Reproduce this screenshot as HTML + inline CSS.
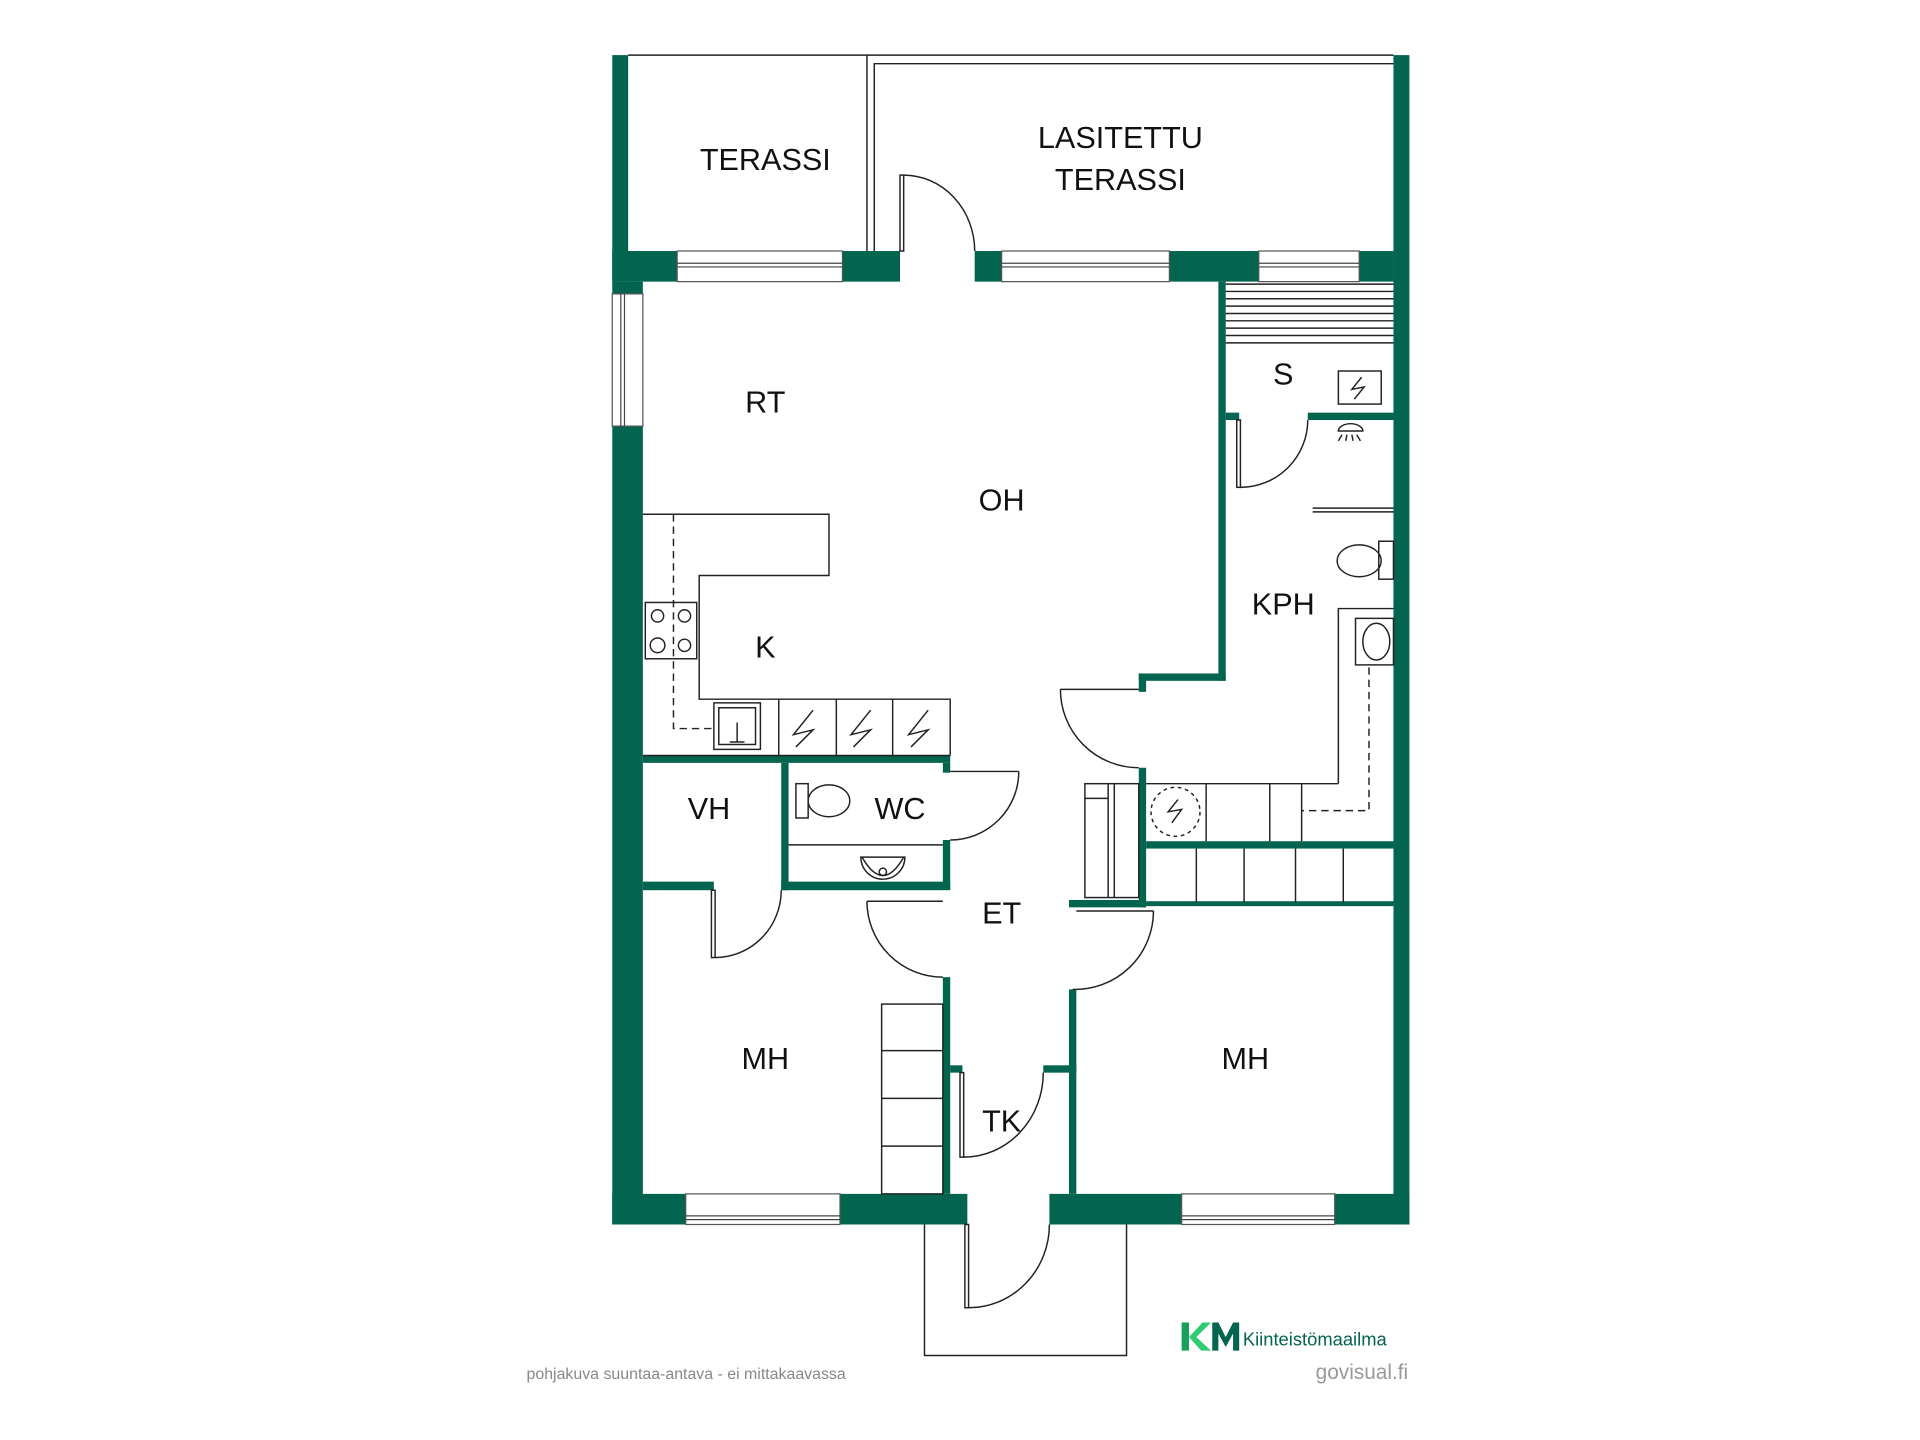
<!DOCTYPE html>
<html><head><meta charset="utf-8"><style>
html,body{margin:0;padding:0;background:#fff;}
svg{display:block;}
text{font-family:"Liberation Sans",Arial,sans-serif;}
</style></head><body>
<svg width="1920" height="1440" viewBox="0 0 1568 1176" preserveAspectRatio="none" xmlns="http://www.w3.org/2000/svg">
<rect width="1568" height="1176" fill="#fff"/>
<g fill="#036450">
<rect x="500" y="45" width="13" height="185"/>
<rect x="500" y="230" width="25" height="770"/>
<rect x="1138" y="45" width="13" height="955"/>
<rect x="500" y="205" width="235" height="25"/>
<rect x="796" y="205" width="342" height="25"/>
<rect x="500" y="975" width="290" height="25"/>
<rect x="857" y="975" width="294" height="25"/>
<rect x="995" y="230" width="6" height="326"/>
<rect x="930" y="550" width="71" height="6"/>
<rect x="930" y="550" width="6" height="15"/>
<rect x="1001" y="337" width="11" height="6"/>
<rect x="1068" y="337" width="70" height="6"/>
<rect x="930" y="627" width="6" height="114"/>
<rect x="936" y="687" width="202" height="6"/>
<rect x="873" y="735" width="63" height="6"/>
<rect x="936" y="736" width="202" height="4"/>
<rect x="873" y="808" width="6" height="167"/>
<rect x="852" y="870" width="27" height="6"/>
<rect x="770" y="798" width="6" height="177"/>
<rect x="776" y="870" width="10" height="6"/>
<rect x="525" y="617" width="251" height="6"/>
<rect x="770" y="623" width="6" height="8"/>
<rect x="770" y="686" width="6" height="40"/>
<rect x="638" y="623" width="6" height="104"/>
<rect x="525" y="720" width="58" height="7"/>
<rect x="638" y="720" width="138" height="7"/>
</g>
<g fill="#fff" stroke="#555" stroke-width="1">
<rect x="553" y="205" width="135" height="25"/>
<rect x="818" y="205" width="137" height="25"/>
<rect x="1028" y="205" width="82" height="25"/>
<rect x="560" y="975" width="126" height="25"/>
<rect x="965" y="975" width="125" height="25"/>
<rect x="500" y="240" width="25" height="108"/>
</g>
<g stroke="#444" stroke-width="1" fill="none">
<line x1="553" y1="215" x2="688" y2="215"/><line x1="553" y1="218" x2="688" y2="218"/>
<line x1="818" y1="215" x2="955" y2="215"/><line x1="818" y1="218" x2="955" y2="218"/>
<line x1="1028" y1="215" x2="1110" y2="215"/><line x1="1028" y1="218" x2="1110" y2="218"/>
<line x1="560" y1="993" x2="686" y2="993"/><line x1="560" y1="996" x2="686" y2="996"/>
<line x1="965" y1="993" x2="1090" y2="993"/><line x1="965" y1="996" x2="1090" y2="996"/>
<line x1="507" y1="240" x2="507" y2="348"/><line x1="510" y1="240" x2="510" y2="348"/>
</g>
<g stroke="#222" stroke-width="1.2" fill="none">
<line x1="513" y1="45" x2="1138" y2="45"/>
<line x1="708" y1="45" x2="708" y2="205"/>
<polyline points="714,205 714,52 1138,52"/>
<rect x="735" y="143" width="3" height="62"/>
<path d="M738 143 A58 62 0 0 1 796 205"/>
<polyline points="755,1000 755,1107 920,1107 920,1000"/>
<rect x="788" y="1000" width="3" height="68"/>
<path d="M791 1068 A66 68 0 0 0 857 1000"/>
<line x1="1001" y1="232" x2="1138" y2="232"/>
<line x1="1001" y1="238" x2="1138" y2="238"/>
<line x1="1001" y1="244" x2="1138" y2="244"/>
<line x1="1001" y1="250" x2="1138" y2="250"/>
<line x1="1001" y1="256" x2="1138" y2="256"/>
<line x1="1001" y1="262" x2="1138" y2="262"/>
<line x1="1001" y1="268" x2="1138" y2="268"/>
<line x1="1001" y1="274" x2="1138" y2="274"/>
<line x1="1001" y1="280" x2="1138" y2="280"/>
<rect x="1093" y="303" width="35" height="27"/>
<path d="M1112 308 L1104 318 L1114 316 L1106 326"/>
<rect x="1010" y="343" width="3" height="55"/>
<path d="M1013 398 A55 55 0 0 0 1068 343"/>
<path d="M1093 352 A10 6 0 0 1 1113 352 Z"/>
<path d="M1096 355 l-3 5 M1100 355 l-1 5 M1104 355 l1 5 M1108 355 l3 5"/>
<line x1="1072" y1="415" x2="1138" y2="415"/>
<line x1="1072" y1="418" x2="1138" y2="418"/>
<ellipse cx="1110" cy="458" rx="18" ry="13"/>
<rect x="1126" y="442" width="12" height="31"/>
<polyline points="1138,497 1093,497 1093,640"/>
<rect x="1107" y="505" width="31" height="38"/>
<ellipse cx="1124" cy="524" rx="11" ry="15"/>
<path d="M1118 545 V662 H1063" stroke-dasharray="6 4"/>
<line x1="866" y1="563" x2="930" y2="563"/>
<path d="M866 563 A64 64 0 0 0 930 627"/>
<line x1="936" y1="640" x2="1093" y2="640"/>
<line x1="985" y1="640" x2="985" y2="687"/>
<line x1="1037" y1="640" x2="1037" y2="687"/>
<line x1="1063" y1="640" x2="1063" y2="687"/>
<circle cx="960" cy="663" r="20" stroke-dasharray="3 3"/>
<path d="M962 653 L954 663 L965 661 L957 672"/>
<line x1="977" y1="693" x2="977" y2="737"/>
<line x1="1016" y1="693" x2="1016" y2="737"/>
<line x1="1058" y1="693" x2="1058" y2="737"/>
<line x1="1097" y1="693" x2="1097" y2="737"/>
<rect x="886" y="640" width="44" height="93"/>
<line x1="905" y1="640" x2="905" y2="733"/>
<line x1="910" y1="640" x2="910" y2="733"/>
<line x1="886" y1="652" x2="905" y2="652"/>
<line x1="879" y1="744" x2="942" y2="744"/>
<path d="M942 744 A64 64 0 0 1 876 808"/>
<rect x="784" y="876" width="3" height="69"/>
<path d="M787 945 A65 69 0 0 0 852 876"/>
<line x1="708" y1="736" x2="770" y2="736"/>
<path d="M708 736 A62 62 0 0 0 770 798"/>
<rect x="581" y="727" width="3" height="55"/>
<path d="M584 782 A54 55 0 0 0 638 727"/>
<line x1="776" y1="630" x2="832" y2="630"/>
<path d="M832 630 A56 56 0 0 1 776 686"/>
<line x1="644" y1="690" x2="770" y2="690"/>
<rect x="650" y="640" width="10" height="28"/>
<ellipse cx="677" cy="654" rx="17" ry="13"/>
<path d="M703 700 A18 18 0 0 0 739 700 Z"/>
<path d="M704 700 Q721 730 738 700"/>
<circle cx="721" cy="712" r="3"/>
<rect x="720" y="820" width="50" height="155"/>
<line x1="720" y1="858" x2="770" y2="858"/>
<line x1="720" y1="897" x2="770" y2="897"/>
<line x1="720" y1="936" x2="770" y2="936"/>
<polyline points="525,420 677,420 677,470 571,470 571,571 776,571 776,617"/>
<line x1="525" y1="617" x2="776" y2="617"/>
<path d="M550 420 V595 H583" stroke-dasharray="6 4"/>
<rect x="527" y="492" width="42" height="46"/>
<circle cx="537" cy="503" r="5"/><circle cx="559" cy="503" r="5"/>
<circle cx="537" cy="527" r="6"/><circle cx="559" cy="527" r="5"/>
<rect x="583" y="574" width="38" height="38"/>
<rect x="587" y="578" width="30" height="30"/>
<path d="M602 590 V606 M596 606 H608"/>
<line x1="636" y1="571" x2="636" y2="617"/>
<line x1="683" y1="571" x2="683" y2="617"/>
<line x1="729" y1="571" x2="729" y2="617"/>
<path d="M664 580 L648 600 L664 596 L650 610"/>
<path d="M711 580 L695 600 L711 596 L697 610"/>
<path d="M758 580 L742 600 L758 596 L744 610"/>
</g>
<g font-size="25" fill="#111" text-anchor="middle">
<text x="625" y="139">TERASSI</text>
<text x="915" y="121">LASITETTU</text>
<text x="915" y="155">TERASSI</text>
<text x="625" y="337">RT</text>
<text x="818" y="417">OH</text>
<text x="625" y="537">K</text>
<text x="1048" y="314">S</text>
<text x="1048" y="502">KPH</text>
<text x="579" y="669">VH</text>
<text x="735" y="669">WC</text>
<text x="818" y="754">ET</text>
<text x="625" y="873">MH</text>
<text x="1017" y="873">MH</text>
<text x="818" y="924">TK</text>
</g>
<text x="430" y="1126" font-size="13" fill="#888">pohjakuva suuntaa-antava - ei mittakaavassa</text>
<text x="1150" y="1126" font-size="17" fill="#999" text-anchor="end">govisual.fi</text>
<g>
<path d="M965 1080 h6 v23 h-6 Z" fill="#17a05a"/>
<path d="M971 1092 L982 1080 h7 L977 1092 L989 1103 h-8 Z" fill="#2ecc71"/>
<path d="M990 1103 V1080 h5 l6 12 l6 -12 h5 v23 h-5 v-14 l-6 11 l-6 -11 v14 Z" fill="#036450"/>
<text x="1015" y="1099" font-size="15" fill="#036450">Kiinteistömaailma</text>
</g>
</svg>
</body></html>
